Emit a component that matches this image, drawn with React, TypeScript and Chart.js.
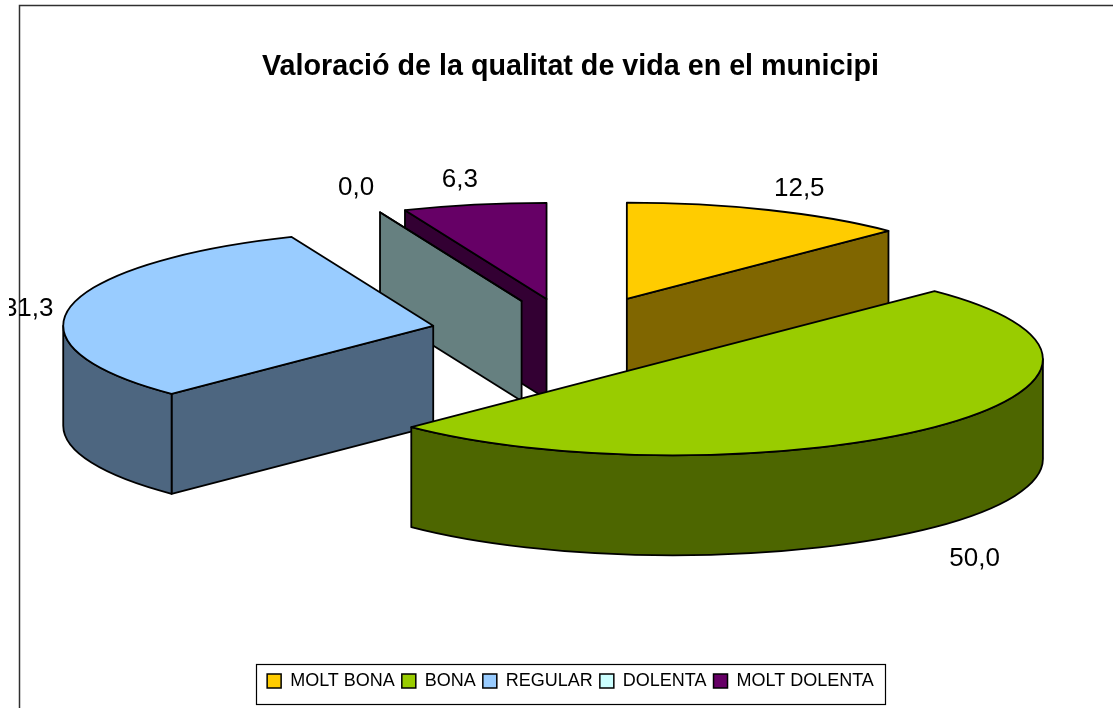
import React, { useEffect, useRef } from "react";
import { Chart, registerables } from "chart.js";

Chart.register(...registerables);

const titleText = "Valoració de la qualitat de vida en el municipi";
const categories = ["MOLT BONA", "BONA", "REGULAR", "DOLENTA", "MOLT DOLENTA"];
const values = [12.5, 50, 31.25, 0, 6.25];
const colors = ["#FFCC00", "#99CC00", "#99CCFF", "#CCFFFF", "#660066"];
const FONT = "'Liberation Sans', Arial, sans-serif";

// projection of the flat pie to the tilted 3D look
const RADIUS = 370;
const EXPLODE = [142, 142, 142, 133, 133];
const TILT = 0.26;
const DEPTH = 100;
const CENTER = { x: 572.5, y: 333 };
const LABEL_GAP = { x: 44, y: 26 };
const LABEL_NUDGE = [[14, 3], [9, 13], [1, 7], [-7, 0], [-6, 1]];

function shade(hex: string) {
  const n = parseInt(hex.slice(1), 16);
  const c = (v: number) => Math.round(v / 2);
  return `rgb(${c((n >> 16) & 255)},${c((n >> 8) & 255)},${c(n & 255)})`;
}

const pie3d = {
  id: "pie3d",
  beforeDraw(chart: any) {
    const ctx = chart.ctx;
    ctx.save();
    ctx.fillStyle = "#fff";
    ctx.fillRect(0, 0, chart.width, chart.height);
    ctx.strokeStyle = "#303030";
    ctx.lineWidth = 1.5;
    ctx.beginPath();
    ctx.moveTo(19.5, chart.height);
    ctx.lineTo(19.5, 5.5);
    ctx.lineTo(chart.width, 5.5);
    ctx.stroke();
    const boxes = chart.legend.legendHitBoxes;
    const left = Math.min(...boxes.map((b: any) => b.left));
    const right = Math.max(...boxes.map((b: any) => b.left + b.width));
    const top = boxes[0].top;
    const h = boxes[0].height;
    ctx.strokeStyle = "#000";
    ctx.lineWidth = 1.2;
    ctx.strokeRect(
      Math.round(left - 11) + 0.5,
      Math.round(top + h / 2 - 17) + 0.5,
      Math.round(right - left + 22),
      40
    );
    ctx.restore();
  },
  beforeDatasetsDraw(chart: any) {
    const ctx = chart.ctx;
    const arcs = chart.getDatasetMeta(0).data;
    const slices = arcs.map((arc: any, i: number) => {
      const mid = (arc.startAngle + arc.endAngle) / 2;
      const rx = arc.outerRadius;
      const ry = arc.outerRadius * TILT;
      const off = arc.options.offset;
      return {
        i, mid, rx, ry,
        a: arc.startAngle,
        b: arc.endAngle,
        ax: CENTER.x + Math.cos(mid) * off,
        ay: CENTER.y + Math.sin(mid) * off * TILT,
        color: arc.options.backgroundColor,
      };
    });
    const order = [...slices].sort((p: any, q: any) => p.ay - q.ay);
    ctx.save();
    ctx.strokeStyle = "#000";
    ctx.lineWidth = 1.8;
    ctx.lineJoin = "round";
    for (const s of order) {
      const wall = (t: number) => {
        const ex = s.ax + Math.cos(t) * s.rx;
        const ey = s.ay + Math.sin(t) * s.ry;
        ctx.beginPath();
        ctx.moveTo(s.ax, s.ay);
        ctx.lineTo(ex, ey);
        ctx.lineTo(ex, ey + DEPTH);
        ctx.lineTo(s.ax, s.ay + DEPTH);
        ctx.closePath();
        ctx.fillStyle = shade(s.color);
        ctx.fill();
        ctx.stroke();
      };
      if (Math.cos(s.a) < 0) wall(s.a);
      if (Math.cos(s.b) > 0) wall(s.b);
      const lo = Math.max(s.a, 0);
      const hi = Math.min(s.b, Math.PI);
      if (hi > lo) {
        ctx.beginPath();
        ctx.ellipse(s.ax, s.ay, s.rx, s.ry, 0, lo, hi);
        ctx.ellipse(s.ax, s.ay + DEPTH, s.rx, s.ry, 0, hi, lo, true);
        ctx.closePath();
        ctx.fillStyle = shade(s.color);
        ctx.fill();
        ctx.stroke();
      }
      ctx.beginPath();
      ctx.moveTo(s.ax, s.ay);
      ctx.ellipse(s.ax, s.ay, s.rx, s.ry, 0, s.a, s.b);
      ctx.closePath();
      ctx.fillStyle = s.color;
      ctx.fill();
      ctx.stroke();
    }
    // value labels, cut at the left like the source picture
    ctx.beginPath();
    ctx.rect(9, 0, chart.width - 9, chart.height);
    ctx.clip();
    ctx.fillStyle = "#000";
    ctx.font = `26px ${FONT}`;
    ctx.textAlign = "center";
    ctx.textBaseline = "middle";
    for (const s of slices) {
      const sin = Math.sin(s.mid);
      const x = s.ax + Math.cos(s.mid) * (s.rx + LABEL_GAP.x) + LABEL_NUDGE[s.i][0];
      const y = s.ay + sin * (s.ry + LABEL_GAP.y) + (sin > 0 ? DEPTH : 0) + LABEL_NUDGE[s.i][1];
      ctx.fillText(values[s.i].toFixed(1).replace(".", ","), x, y);
    }
    ctx.restore();
    return false;
  },
};

export default function App() {
  const ref = useRef<HTMLCanvasElement>(null);
  useEffect(() => {
    const chart = new Chart(ref.current!, {
      type: "pie",
      data: {
        labels: categories,
        datasets: [
          {
            data: values,
            backgroundColor: colors,
            borderColor: "#000",
            borderWidth: 1.5,
            offset: EXPLODE,
          },
        ],
      },
      options: {
        responsive: false,
        animation: false,
        radius: RADIUS,
        layout: { padding: { left: 28, bottom: 8, top: 0 } },
        plugins: {
          tooltip: { enabled: false },
          title: {
            display: true,
            text: titleText,
            color: "#000",
            font: { family: FONT, size: 28.7, weight: "bold" },
            padding: { top: 50, bottom: 10 },
          },
          legend: {
            position: "bottom",
            labels: {
              color: "#000",
              boxWidth: 14,
              boxHeight: 14,
              padding: 7,
              font: { family: FONT, size: 18 },
            },
          },
        },
      } as any,
      plugins: [pie3d],
    });
    return () => chart.destroy();
  }, []);
  return (
    <div style={{ position: "absolute", left: 0, top: 0, width: 1113, height: 708 }}>
      <canvas ref={ref} width={1113} height={708} style={{ display: "block" }} />
    </div>
  );
}
